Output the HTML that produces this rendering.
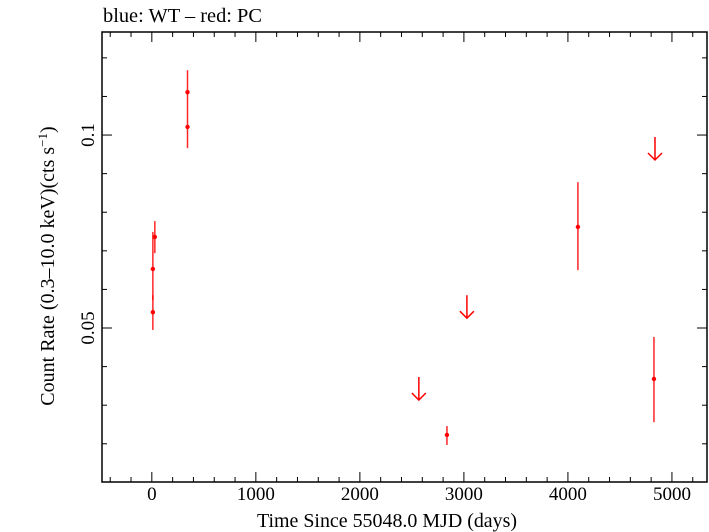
<!DOCTYPE html>
<html><head><meta charset="utf-8"><style>
body{margin:0;background:#fff;}
svg{display:block;font-family:"Liberation Serif",serif;}
</style></head><body>
<svg id="chart" width="709" height="532" viewBox="0 0 709 532" xmlns="http://www.w3.org/2000/svg">
<text x="103" y="22" font-size="20" textLength="159" lengthAdjust="spacingAndGlyphs">blue: WT – red: PC</text>
<rect x="102" y="32" width="605" height="450" fill="none" stroke="#000" stroke-width="1.5"/>
<g id="axes"></g>
<g id="marks"></g>
<text x="387" y="527" font-size="20" text-anchor="middle" textLength="260" lengthAdjust="spacingAndGlyphs">Time Since 55048.0 MJD (days)</text>
<text transform="translate(54,266) rotate(-90)" font-size="20" text-anchor="middle">Count Rate (0.3–10.0 keV)(cts s<tspan font-size="13" dy="-7">−1</tspan><tspan dy="7">)</tspan></text>
</svg>
<script>
const ptDays=[29,10,10,343,343,2837,4096,4827];
const ptRate=[0.0736,0.0653,0.0541,0.1111,0.1021,0.0223,0.0762,0.0368];
const ptHi=[0.0777,0.0749,0.0585,0.1168,0.1070,0.0246,0.0878,0.0477];
const ptLo=[0.0694,0.0573,0.0495,0.1070,0.0966,0.0197,0.0650,0.0256];
const ulDays=[2567,3029,4837];
const ulRate=[0.0373,0.0585,0.0995];
const xTicks=[0,1000,2000,3000,4000,5000];
const yTicks=[0.05,0.1];
const yTickLabels=["0.05","0.1"];

const L=102,R=707,T=32,B=482;
const xMin=-479,xMax=5337,yMin=0.0101,yMax=0.1267;
const sx=v=>L+(v-xMin)/(xMax-xMin)*(R-L);
const sy=v=>B-(v-yMin)/(yMax-yMin)*(B-T);
const NS="http://www.w3.org/2000/svg";
const axes=document.getElementById('axes'),marks=document.getElementById('marks');
function mk(tag,attrs,parent){const e=document.createElementNS(NS,tag);for(const k in attrs)e.setAttribute(k,attrs[k]);parent.appendChild(e);return e;}
for(let v=-400;v<=5200;v+=200){
  const major=v%1000===0,len=major?10:5,x=sx(v);
  const t1=mk('line',{x1:x,x2:x,y1:B,y2:B-len,stroke:'#000','stroke-width':1},axes);
  
  
  const t2=mk('line',{x1:x,x2:x,y1:T,y2:T+len,stroke:'#000','stroke-width':1},axes);
  
  
}
xTicks.forEach(v=>{
  const t=mk('text',{x:sx(v),y:500,'font-size':19,'text-anchor':'middle'},axes);
  t.textContent=String(v);
  
  
});
for(let i=2;i<=12;i++){
  const v=i/100,major=(i%5===0),len=major?10:5,y=sy(v);
  const t1=mk('line',{x1:L,x2:L+len,y1:y,y2:y,stroke:'#000','stroke-width':1},axes);
  
  
  const t2=mk('line',{x1:R,x2:R-len,y1:y,y2:y,stroke:'#000','stroke-width':1},axes);
  
  
}
yTicks.forEach((v,i)=>{
  const t=mk('text',{transform:`translate(94,${sy(v)}) rotate(-90)`,'font-size':19,'text-anchor':'middle'},axes);
  t.textContent=yTickLabels[i];
  
  
});
ptDays.forEach((d,i)=>{
  const x=sx(d);
  const e=mk('line',{x1:x,x2:x,y1:sy(ptHi[i]),y2:sy(ptLo[i]),stroke:'#f00','stroke-width':1.5,'stroke-opacity':0.85},marks);
  
  
  const c=mk('circle',{cx:x,cy:sy(ptRate[i]),r:2.2,fill:'#f00'},marks);
  
  
});
ulDays.forEach((d,i)=>{
  const x=sx(d),y=sy(ulRate[i]);
  const g=mk('path',{d:`M${x},${y}V${y+23}M${x-7},${y+16}L${x},${y+23}L${x+7},${y+16}`,stroke:'#f00','stroke-width':1.5,fill:'none'},marks);
  
  
});
</script>
</body></html>
